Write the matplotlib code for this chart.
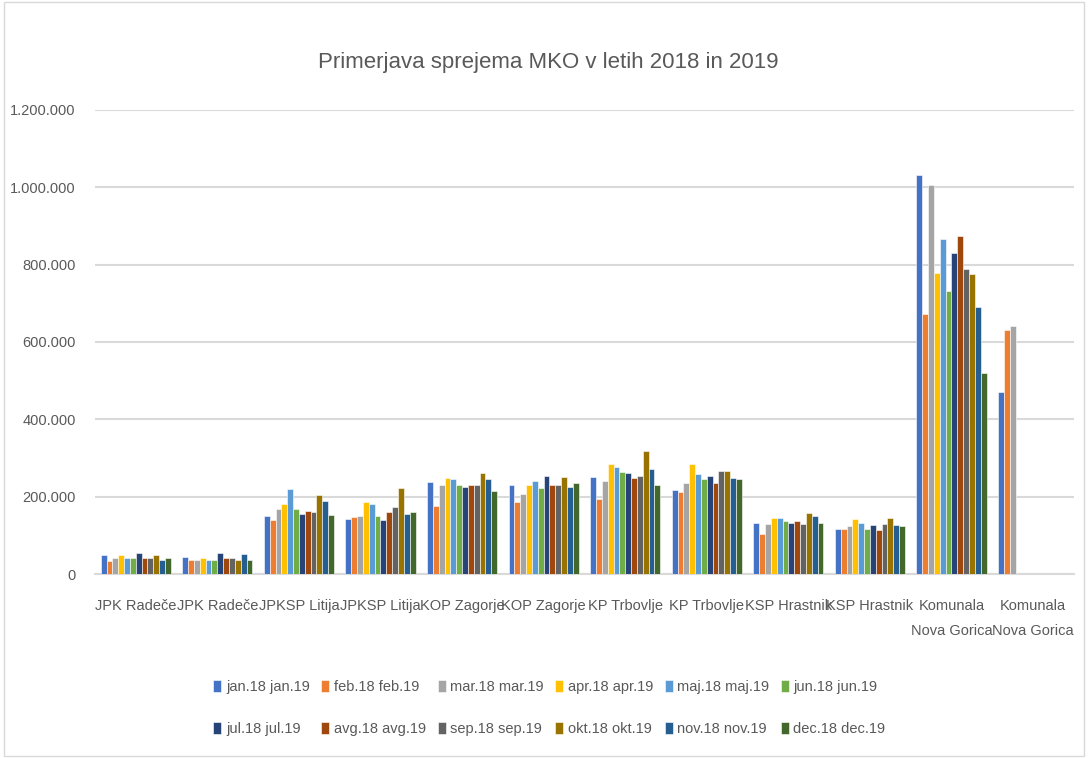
import numpy as np
import matplotlib
matplotlib.use("Agg")
import matplotlib.pyplot as plt
from matplotlib.patches import Rectangle
from matplotlib.ticker import FuncFormatter

plt.rcParams['font.family'] = ['Liberation Sans', 'DejaVu Sans']

categories = ["JPK Radeče", "JPK Radeče", "JPKSP Litija", "JPKSP Litija",
              "KOP Zagorje", "KOP Zagorje", "KP Trbovlje", "KP Trbovlje",
              "KSP Hrastnik", "KSP Hrastnik", "Komunala\nNova Gorica", "Komunala\nNova Gorica"]

series_names = ["jan.18 jan.19", "feb.18 feb.19", "mar.18 mar.19", "apr.18 apr.19",
                "maj.18 maj.19", "jun.18 jun.19", "jul.18 jul.19", "avg.18 avg.19",
                "sep.18 sep.19", "okt.18 okt.19", "nov.18 nov.19", "dec.18 dec.19"]

colors = ["#4472C4", "#ED7D31", "#A5A5A5", "#FFC000", "#5B9BD5", "#70AD47",
          "#264478", "#9E480E", "#636363", "#997300", "#255E91", "#43682B"]

nan = np.nan
# one row per category, one column per month
values = np.array([
    [48000, 34000, 41000, 48000, 41000, 41000, 54000, 41000, 41000, 48000, 37500, 41000],
    [44500, 37500, 37500, 41000, 37500, 37500, 54000, 41000, 41000, 37500, 50600, 37500],
    [149000, 140000, 167000, 182000, 219000, 169000, 156000, 163000, 160000, 205000, 189000, 153000],
    [143000, 147000, 149000, 186000, 182000, 149000, 140000, 160000, 173000, 223000, 156000, 160000],
    [238000, 176000, 231000, 248000, 245000, 229000, 225000, 229000, 229000, 262000, 245000, 215000],
    [231000, 186000, 208000, 229000, 241000, 222000, 254000, 229000, 229000, 252000, 225000, 235000],
    [252000, 195000, 241000, 284000, 278000, 265000, 261000, 248000, 254000, 317000, 271000, 229000],
    [218000, 212000, 235000, 284000, 258000, 245000, 254000, 235000, 267000, 267000, 248000, 245000],
    [133000, 103000, 129000, 146000, 146000, 136000, 133000, 136000, 129000, 159000, 149000, 133000],
    [116000, 116000, 123000, 142000, 133000, 116000, 127000, 113000, 129000, 146000, 127000, 125000],
    [1032000, 673000, 1006000, 778000, 866000, 732000, 829000, 873000, 788000, 775000, 690000, 519000],
    [471000, 631000, 641000, nan, nan, nan, nan, nan, nan, nan, nan, nan],
])

fig = plt.figure(figsize=(10.88, 7.58), dpi=100)
fig.patches.append(Rectangle((0.004, 0.003), 0.992, 0.994, transform=fig.transFigure,
                             fill=False, edgecolor="#D9D9D9", lw=1))
ax = fig.add_axes([0.0873, 0.2427, 0.8997, 0.6123])

x = np.arange(len(categories))
n = len(series_names)
bw = 0.86 / n
bars = []
for i in range(n):
    b = ax.bar(x - 0.43 + bw * (i + 0.5), values[:, i], width=bw, color=colors[i],
               edgecolor="white", linewidth=0.4, label=series_names[i], zorder=3)
    bars.append(b)

ax.set_xlim(-0.5, len(categories) - 0.5)
ax.set_ylim(0, 1200000)
ax.set_yticks(np.arange(0, 1200001, 200000))
ax.yaxis.set_major_formatter(FuncFormatter(lambda v, p: f"{int(v):,}".replace(",", ".")))
ax.set_xticks(x)
ax.set_xticklabels(categories, linespacing=2.0)
ax.tick_params(axis="both", length=0, labelsize=10.5, colors="#595959")
ax.tick_params(axis="x", pad=18)
ax.tick_params(axis="y", pad=14)
ax.grid(axis="y", color="#D9D9D9", lw=1.5, zorder=0)
for s in ["top", "right", "left"]:
    ax.spines[s].set_visible(False)
ax.spines["bottom"].set_color("#D9D9D9")
ax.spines["bottom"].set_linewidth(1.5)

fig.text(0.504, 0.918, "Primerjava sprejema MKO v letih 2018 in 2019", ha="center", va="center",
         fontsize=16, color="#595959")

# legend fills column-wise, so reorder for row-wise reading
order = [0, 6, 1, 7, 2, 8, 3, 9, 4, 10, 5, 11]
fig.legend([bars[k] for k in order], [series_names[k] for k in order],
           loc="center", bbox_to_anchor=(0.505, 0.066), ncol=6, frameon=False, fontsize=10.5,
           labelcolor="#595959", handlelength=0.55, handleheight=0.9, handletextpad=0.3,
           columnspacing=0.8, labelspacing=1.9)

fig.savefig("out.png", dpi=100)
